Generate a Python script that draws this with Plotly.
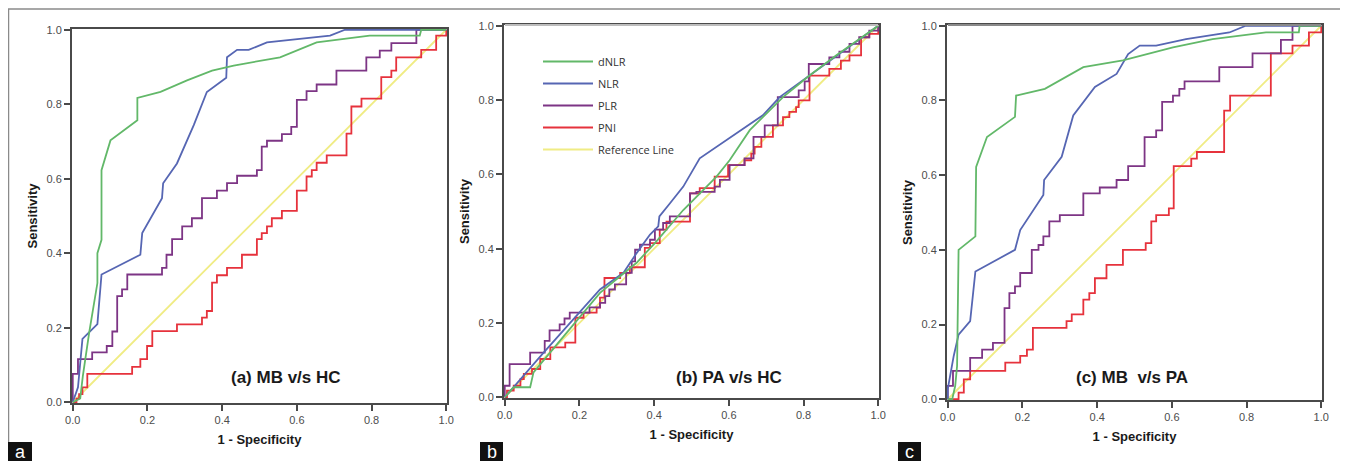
import plotly.graph_objects as go

# ---------------- data ----------------
SERIES = ["dNLR", "NLR", "PLR", "PNI", "Reference Line"]
PANEL_TITLES = ["(a) MB v/s HC", "(b) PA v/s HC", "(c) MB\u00a0 v/s PA"]
PANEL_LETTERS = ["a", "b", "c"]
TICKS = [0.0, 0.2, 0.4, 0.6, 0.8, 1.0]
X_TITLE = "1 - Specificity"
Y_TITLE = "Sensitivity"

# Panel (a) MB v/s HC
A_DNLR_X = [0, 0.02, 0.027, 0.044, 0.066, 0.066, 0.077, 0.077, 0.101, 0.173, 0.173, 0.235, 0.306, 0.373, 0.431, 0.555, 0.653, 0.795, 0.929, 0.933, 1.0]
A_DNLR_Y = [0, 0.01, 0.07, 0.187, 0.32, 0.40, 0.436, 0.623, 0.703, 0.757, 0.817, 0.833, 0.864, 0.890, 0.904, 0.926, 0.966, 0.984, 0.984, 1.0, 1.0]
A_NLR_X = [0, 0.005, 0.014, 0.021, 0.026, 0.066, 0.077, 0.181, 0.186, 0.239, 0.242, 0.279, 0.324, 0.359, 0.411, 0.413, 0.440, 0.471, 0.520, 0.689, 0.729, 1.0]
A_NLR_Y = [0, 0.015, 0.04, 0.116, 0.17, 0.21, 0.343, 0.396, 0.454, 0.548, 0.588, 0.641, 0.744, 0.833, 0.871, 0.926, 0.946, 0.946, 0.966, 0.984, 1.0, 1.0]
A_PLR_X = [0, 0, 0.014, 0.052, 0.091, 0.106, 0.119, 0.132, 0.146, 0.239, 0.251, 0.266, 0.293, 0.319, 0.346, 0.386, 0.413, 0.44, 0.493, 0.506, 0.52, 0.56, 0.585, 0.60, 0.626, 0.653, 0.706, 0.786, 0.822, 0.853, 0.92, 1.0]
A_PLR_Y = [0, 0.076, 0.116, 0.134, 0.151, 0.19, 0.285, 0.303, 0.343, 0.361, 0.396, 0.438, 0.472, 0.494, 0.548, 0.568, 0.588, 0.608, 0.623, 0.686, 0.702, 0.72, 0.739, 0.812, 0.835, 0.853, 0.890, 0.926, 0.944, 0.964, 1.0, 1.0]
A_PNI_X = [0, 0.01, 0.017, 0.026, 0.039, 0.159, 0.181, 0.199, 0.213, 0.279, 0.346, 0.359, 0.373, 0.386, 0.413, 0.453, 0.493, 0.506, 0.52, 0.533, 0.56, 0.60, 0.626, 0.64, 0.653, 0.68, 0.733, 0.746, 0.773, 0.826, 0.853, 0.866, 0.933, 0.973, 1.0]
A_PNI_Y = [0, 0.01, 0.022, 0.04, 0.076, 0.095, 0.116, 0.151, 0.191, 0.209, 0.227, 0.245, 0.321, 0.341, 0.361, 0.396, 0.438, 0.454, 0.472, 0.494, 0.514, 0.568, 0.606, 0.623, 0.643, 0.663, 0.721, 0.794, 0.815, 0.873, 0.89, 0.926, 0.946, 0.984, 1.0]

# Panel (b) PA v/s HC
B_DNLR_X = [0, 0.024, 0.068, 0.077, 0.166, 0.255, 0.353, 0.402, 0.478, 0.567, 0.602, 0.656, 0.691, 0.745, 0.816, 0.887, 1.0]
B_DNLR_Y = [0, 0.027, 0.027, 0.067, 0.174, 0.281, 0.362, 0.415, 0.504, 0.594, 0.638, 0.719, 0.754, 0.808, 0.866, 0.920, 1.0]
B_NLR_X = [0, 0.104, 0.255, 0.318, 0.353, 0.389, 0.411, 0.414, 0.443, 0.478, 0.522, 0.567, 0.62, 0.691, 0.736, 0.816, 1.0]
B_NLR_Y = [0, 0.12, 0.29, 0.335, 0.388, 0.438, 0.46, 0.487, 0.523, 0.567, 0.643, 0.674, 0.71, 0.759, 0.808, 0.866, 1.0]
B_PLR_X = [0, 0, 0.013, 0.068, 0.107, 0.12, 0.147, 0.16, 0.174, 0.227, 0.255, 0.269, 0.28, 0.295, 0.325, 0.34, 0.349, 0.362, 0.389, 0.402, 0.424, 0.442, 0.496, 0.513, 0.562, 0.576, 0.602, 0.642, 0.666, 0.696, 0.731, 0.787, 0.803, 0.814, 0.869, 0.896, 0.923, 0.949, 0.976, 1.0]
B_PLR_Y = [0, 0.031, 0.089, 0.12, 0.152, 0.18, 0.196, 0.212, 0.228, 0.242, 0.254, 0.272, 0.29, 0.304, 0.335, 0.366, 0.397, 0.411, 0.424, 0.451, 0.469, 0.487, 0.549, 0.553, 0.567, 0.585, 0.625, 0.643, 0.701, 0.732, 0.808, 0.826, 0.85, 0.897, 0.915, 0.93, 0.951, 0.969, 0.987, 1.0]
B_PNI_X = [0, 0.006, 0.024, 0.042, 0.051, 0.073, 0.095, 0.122, 0.162, 0.189, 0.211, 0.246, 0.255, 0.267, 0.309, 0.335, 0.375, 0.389, 0.415, 0.433, 0.496, 0.522, 0.562, 0.598, 0.642, 0.66, 0.669, 0.687, 0.718, 0.745, 0.762, 0.78, 0.787, 0.816, 0.869, 0.9, 0.923, 0.954, 0.976, 1.0]
B_PNI_Y = [0, 0.018, 0.031, 0.049, 0.063, 0.076, 0.103, 0.134, 0.147, 0.214, 0.228, 0.241, 0.268, 0.321, 0.335, 0.35, 0.402, 0.415, 0.451, 0.473, 0.549, 0.563, 0.594, 0.625, 0.638, 0.656, 0.674, 0.701, 0.732, 0.754, 0.768, 0.781, 0.799, 0.866, 0.884, 0.906, 0.92, 0.969, 0.978, 1.0]

# Panel (c) MB v/s PA
C_DNLR_X = [0, 0.012, 0.02, 0.025, 0.029, 0.074, 0.076, 0.105, 0.18, 0.183, 0.26, 0.363, 0.469, 0.603, 0.709, 0.852, 0.94, 0.942, 1.0]
C_DNLR_Y = [0, 0, 0.036, 0.089, 0.40, 0.436, 0.622, 0.702, 0.756, 0.813, 0.831, 0.889, 0.907, 0.942, 0.964, 0.982, 0.982, 1.0, 1.0]
C_NLR_X = [0, 0, 0.016, 0.029, 0.06, 0.074, 0.18, 0.194, 0.256, 0.258, 0.305, 0.336, 0.394, 0.452, 0.483, 0.514, 0.558, 0.638, 0.754, 0.798, 1.0]
C_NLR_Y = [0, 0.027, 0.116, 0.173, 0.209, 0.342, 0.40, 0.453, 0.547, 0.587, 0.649, 0.76, 0.836, 0.871, 0.924, 0.947, 0.947, 0.964, 0.982, 1.0, 1.0]
C_PLR_X = [0, 0, 0.014, 0.06, 0.092, 0.121, 0.152, 0.165, 0.18, 0.194, 0.225, 0.243, 0.256, 0.272, 0.30, 0.363, 0.407, 0.452, 0.483, 0.527, 0.558, 0.574, 0.603, 0.62, 0.634, 0.727, 0.816, 0.892, 0.923, 1.0]
C_PLR_Y = [0, 0.036, 0.076, 0.111, 0.133, 0.151, 0.244, 0.284, 0.302, 0.338, 0.40, 0.413, 0.436, 0.476, 0.493, 0.551, 0.567, 0.587, 0.624, 0.702, 0.72, 0.796, 0.813, 0.831, 0.851, 0.889, 0.926, 0.962, 1.0, 1.0]
C_PNI_X = [0, 0.029, 0.043, 0.06, 0.154, 0.194, 0.212, 0.228, 0.318, 0.332, 0.363, 0.379, 0.394, 0.425, 0.469, 0.53, 0.545, 0.558, 0.592, 0.605, 0.652, 0.667, 0.74, 0.756, 0.865, 0.923, 0.967, 1.0]
C_PNI_Y = [0, 0.018, 0.053, 0.076, 0.098, 0.116, 0.133, 0.191, 0.209, 0.227, 0.267, 0.284, 0.324, 0.36, 0.40, 0.418, 0.476, 0.493, 0.511, 0.624, 0.644, 0.662, 0.773, 0.813, 0.926, 0.947, 0.982, 1.0]

REF_X = [0, 1]
REF_Y = [0, 1]

# ---------------- styling ----------------
PAGE_W, PAGE_H = 1348, 461
OFF = 8                      # default page margin around the plot div
W, H = PAGE_W - OFF, PAGE_H - OFF


def px(x):
    return (x - OFF) / W


def py(y):
    return 1 - (y - OFF) / H


COLORS = {"dNLR": "#62b869", "NLR": "#5666b3", "PLR": "#7d3585",
          "PNI": "#e6323c", "Reference Line": "#f0ec84"}
SHAPES = {"dNLR": "linear", "NLR": "linear", "PLR": "hv", "PNI": "hv",
          "Reference Line": "linear"}
# plot areas in page pixels: (left, right, top, bottom)
BOXES = [(72, 447, 29, 403), (504, 879, 25, 398), (947, 1322, 25, 400)]
TOP_LINE = [None, "#bdbdbd", "#8a8a8a"]
LABEL_BOXES = [(8, 32), (480, 503), (898, 921)]

panels = [
    {"dNLR": (A_DNLR_X, A_DNLR_Y), "NLR": (A_NLR_X, A_NLR_Y),
     "PLR": (A_PLR_X, A_PLR_Y), "PNI": (A_PNI_X, A_PNI_Y),
     "Reference Line": (REF_X, REF_Y)},
    {"dNLR": (B_DNLR_X, B_DNLR_Y), "NLR": (B_NLR_X, B_NLR_Y),
     "PLR": (B_PLR_X, B_PLR_Y), "PNI": (B_PNI_X, B_PNI_Y),
     "Reference Line": (REF_X, REF_Y)},
    {"dNLR": (C_DNLR_X, C_DNLR_Y), "NLR": (C_NLR_X, C_NLR_Y),
     "PLR": (C_PLR_X, C_PLR_Y), "PNI": (C_PNI_X, C_PNI_Y),
     "Reference Line": (REF_X, REF_Y)},
]

fig = go.Figure()
draw_order = ["Reference Line", "PNI", "PLR", "NLR", "dNLR"]
for i, data in enumerate(panels):
    xa = "x" if i == 0 else f"x{i+1}"
    ya = "y" if i == 0 else f"y{i+1}"
    for name in draw_order:
        xs, ys = data[name]
        fig.add_trace(go.Scatter(
            x=xs, y=ys, mode="lines", name=name,
            line=dict(color=COLORS[name], width=1.8, shape=SHAPES[name]),
            xaxis=xa, yaxis=ya, showlegend=(i == 1),
            legendrank=SERIES.index(name) + 1, legendgroup=name,
            hoverinfo="skip"))

axis_font = dict(family="Liberation Sans, Arial, sans-serif", size=11, color="#4d4d4d")
title_font = dict(family="Liberation Sans, Arial, sans-serif", size=13, color="#1a1a1a")
layout = {}
shapes = []
for i, (l, r, t, b) in enumerate(BOXES):
    sx = "" if i == 0 else str(i + 1)
    common = dict(range=[-0.002, 1.002], tickvals=TICKS, tickformat=".1f",
                  showgrid=False, zeroline=False, showline=True, mirror=True,
                  linecolor="#4a4a4a", linewidth=2, ticks="outside", ticklen=6,
                  tickwidth=1.5, tickcolor="#4a4a4a", tickfont=axis_font,
                  fixedrange=True, automargin=False)
    layout["xaxis" + sx] = dict(common, domain=[px(l), px(r)],
                                anchor="y" + sx,
                                title=dict(text="<b>" + X_TITLE + "</b>",
                                           font=title_font, standoff=10))
    layout["yaxis" + sx] = dict(common, domain=[py(b), py(t)],
                                anchor="x" + sx,
                                title=dict(text="<b>" + Y_TITLE + "</b>",
                                           font=title_font, standoff=6))
    if TOP_LINE[i]:
        # lighter top frame edge, as in the reference
        shapes.append(dict(type="line", xref="paper", yref="paper",
                           x0=px(l + 1), x1=px(r - 1), y0=py(t), y1=py(t),
                           line=dict(color=TOP_LINE[i], width=2), layer="above"))

annotations = []
centers = [286, 729, 1132]
for i, txt in enumerate(PANEL_TITLES):
    annotations.append(dict(text="<b>" + txt + "</b>", x=px(centers[i]),
                            y=py(377), xref="paper", yref="paper",
                            showarrow=False, xanchor="center", yanchor="middle",
                            font=dict(family="Liberation Sans, Arial, sans-serif",
                                      size=17, color="#1a1a1a")))
shapes.append(dict(type="rect", xref="paper", yref="paper", x0=px(8.5), x1=px(1345),
                   y0=-0.2, y1=py(9), line=dict(color="#8a8a8a", width=1.5),
                   fillcolor="rgba(0,0,0,0)", layer="below"))
for (x0, x1), letter in zip(LABEL_BOXES, PANEL_LETTERS):
    shapes.append(dict(type="rect", xref="paper", yref="paper", x0=px(x0),
                       x1=px(x1), y0=-0.05, y1=py(442),
                       line=dict(width=0), fillcolor="#111111"))
    annotations.append(dict(text=letter, x=px((x0 + x1) / 2), y=py(451.5),
                            xref="paper", yref="paper", showarrow=False,
                            xanchor="center", yanchor="middle", borderpad=0,
                            font=dict(family="Liberation Sans, Arial, sans-serif",
                                      size=18, color="white")))

fig.update_layout(
    width=W, height=H, margin=dict(l=0, r=0, t=0, b=0),
    paper_bgcolor="white", plot_bgcolor="white",
    annotations=annotations, shapes=shapes,
    legend=dict(x=px(538), y=py(47), xanchor="left", yanchor="top",
                bgcolor="rgba(0,0,0,0)", tracegroupgap=3, itemwidth=50,
                font=dict(family="Open Sans, sans-serif", size=11, color="#333")),
    **layout)

fig.write_html("out.html")
